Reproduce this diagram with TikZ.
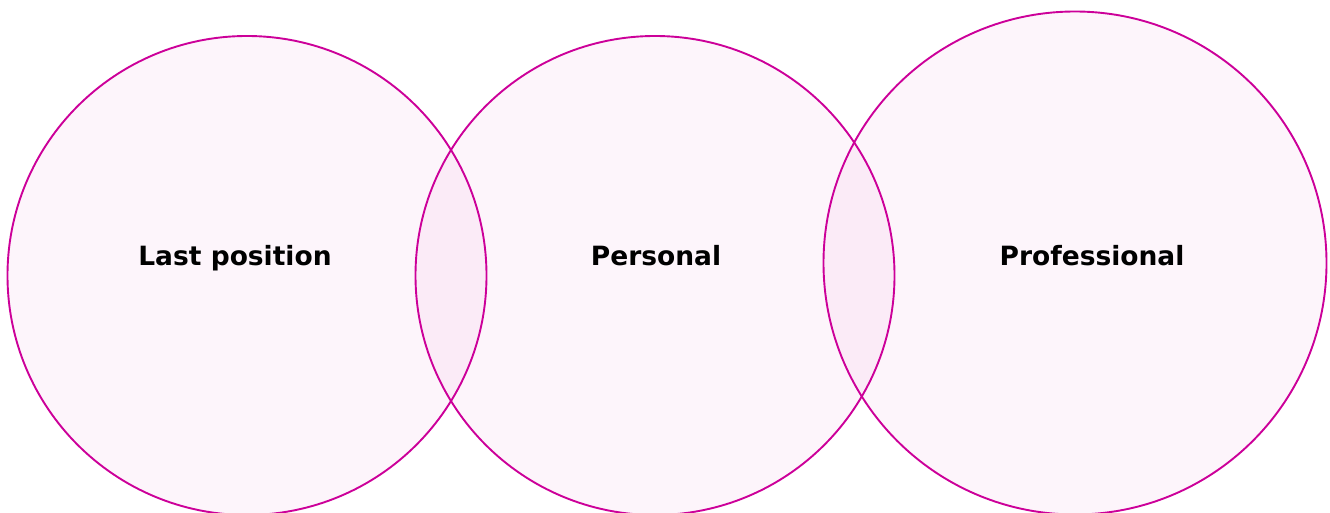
\documentclass[tikz,border=0pt]{standalone}
\usepackage{fontspec}
\setmainfont{DejaVu Sans}
\definecolor{ringpink}{RGB}{204,0,153}
\tikzset{
  ring/.style={circle, draw=ringpink, line width=1.9pt, fill=ringpink, fill opacity=0.04, text opacity=1, inner sep=0pt},
  ringlabel/.style={anchor=base, font=\fontsize{26.5}{32}\selectfont\bfseries, text=black}
}
\begin{document}
\begin{tikzpicture}[x=1pt, y=-1pt]
        \useasboundingbox (0,0) rectangle (1330,513);
        % three overlapping circles
        \node[ring, minimum size=479pt] (last) at (247,275.5) {};
        \node[ring, minimum size=479pt] (personal) at (655,275.5) {};
        \node[ring, minimum size=503pt] (prof) at (1075,263) {};
        % labels
        \node[ringlabel] (lastlab) at (235,265) {Last position};
        \node[ringlabel] (perslab) at (656,265) {Personal};
        \node[ringlabel] (proflab) at (1092,265) {Professional};
    \end{tikzpicture}
\end{document}
